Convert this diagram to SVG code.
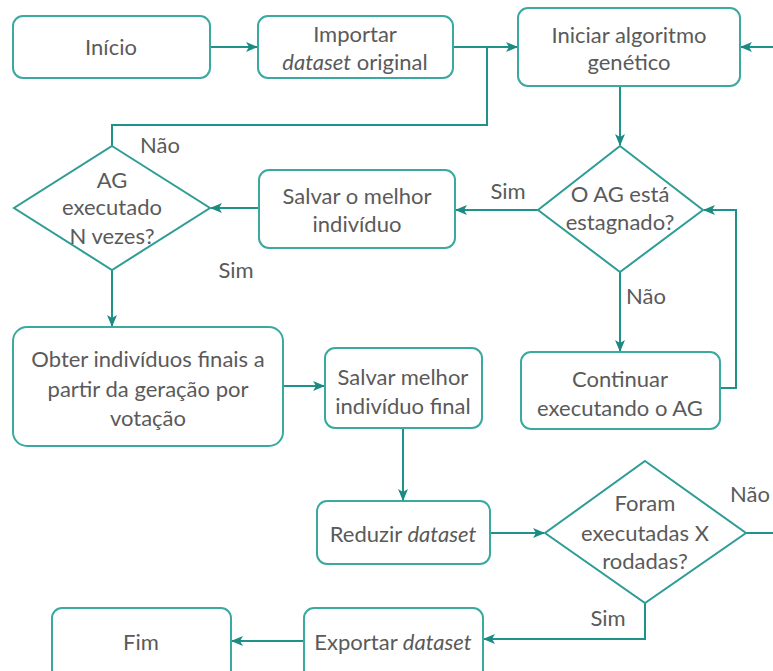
<svg xmlns="http://www.w3.org/2000/svg" width="773" height="671" viewBox="0 0 773 671">
<defs>
<style>
.box{fill:#fff;stroke:#3aa9a0;stroke-width:2}
.dia{fill:#fff;stroke:#2e9d95;stroke-width:2}
.ln{fill:none;stroke:#1f928a;stroke-width:2}
text{font-family:Lato,"Open Sans","Liberation Sans",sans-serif;font-size:22px;fill:#5a5a5a;text-anchor:middle}
</style>
<marker id="ah" viewBox="0 0 12 10" refX="11" refY="5" markerWidth="12" markerHeight="10" markerUnits="userSpaceOnUse" orient="auto">
<path d="M0,0 L12,5 L0,10 L3,5 z" fill="#1a8a82"/>
</marker>
</defs>
<rect width="773" height="671" fill="#fff"/>
<g id="connectors">
<path class="ln" d="M210,47 H257" marker-end="url(#ah)"/>
<path class="ln" d="M453,47 H517" marker-end="url(#ah)"/>
<path class="ln" d="M487,47 V125 H112 V146"/>
<path class="ln" d="M773,47 H741" marker-end="url(#ah)"/>
<path class="ln" d="M620,86 V145" marker-end="url(#ah)"/>
<path class="ln" d="M538,210 H456" marker-end="url(#ah)"/>
<path class="ln" d="M259,208 H211" marker-end="url(#ah)"/>
<path class="ln" d="M112,270 V326" marker-end="url(#ah)"/>
<path class="ln" d="M620,272 V351" marker-end="url(#ah)"/>
<path class="ln" d="M720,388 H736 V210 H704" marker-end="url(#ah)"/>
<path class="ln" d="M283,386 H324" marker-end="url(#ah)"/>
<path class="ln" d="M403,428 V500" marker-end="url(#ah)"/>
<path class="ln" d="M490,533 H544" marker-end="url(#ah)"/>
<path class="ln" d="M746,533 H773"/>
<path class="ln" d="M645,603 V639 H484" marker-end="url(#ah)"/>
<path class="ln" d="M304,641 H232" marker-end="url(#ah)"/>
<text x="160" y="153">Não</text>
<text x="508" y="199">Sim</text>
<text x="236" y="278">Sim</text>
<text x="646" y="304">Não</text>
<text x="750" y="502">Não</text>
<text x="608" y="626">Sim</text>
</g>
<g id="inicio"><rect class="box" x="13" y="16" width="197" height="62" rx="10"/><text x="111" y="55">Início</text></g>
<g id="importar"><rect class="box" x="258" y="16" width="195" height="62" rx="10"/><text x="355" y="42">Importar</text><text x="355" y="70"><tspan font-style="italic">dataset</tspan> original</text></g>
<g id="iniciar"><rect class="box" x="518" y="8" width="222" height="78" rx="10"/><text x="629" y="43">Iniciar algoritmo</text><text x="629" y="70">genético</text></g>
<g id="estagnado"><path class="dia" d="M620,146 L703,210 L620,272 L538,210 Z"/><text x="620" y="202">O AG está</text><text x="620" y="230">estagnado?</text></g>
<g id="salvar-melhor"><rect class="box" x="259" y="170" width="196" height="78" rx="10"/><text x="357" y="204">Salvar o melhor</text><text x="357" y="232">indivíduo</text></g>
<g id="ag-n-vezes"><path class="dia" d="M112,146 L210,208 L112,270 L14,208 Z"/><text x="112" y="188">AG</text><text x="112" y="215">executado</text><text x="112" y="244">N vezes?</text></g>
<g id="obter"><rect class="box" x="13" y="327" width="270" height="119" rx="14"/><text x="148" y="367">Obter indivíduos finais a</text><text x="148" y="397">partir da geração por</text><text x="148" y="426">votação</text></g>
<g id="salvar-final"><rect class="box" x="325" y="348" width="157" height="80" rx="10"/><text x="403" y="385">Salvar melhor</text><text x="403" y="414">indivíduo final</text></g>
<g id="continuar"><rect class="box" x="521" y="352" width="199" height="77" rx="10"/><text x="620" y="387">Continuar</text><text x="620" y="416">executando o AG</text></g>
<g id="reduzir"><rect class="box" x="317" y="501" width="173" height="63" rx="10"/><text x="403" y="542">Reduzir <tspan font-style="italic">dataset</tspan></text></g>
<g id="foram"><path class="dia" d="M645,461 L746,533 L645,603 L545,533 Z"/><text x="645" y="511">Foram</text><text x="645" y="541">executadas X</text><text x="645" y="569">rodadas?</text></g>
<g id="exportar"><rect class="box" x="304" y="608" width="179" height="72" rx="10"/><text x="393" y="650">Exportar <tspan font-style="italic">dataset</tspan></text></g>
<g id="fim"><rect class="box" x="52" y="608" width="179" height="72" rx="10"/><text x="141" y="650">Fim</text></g>
</svg>
